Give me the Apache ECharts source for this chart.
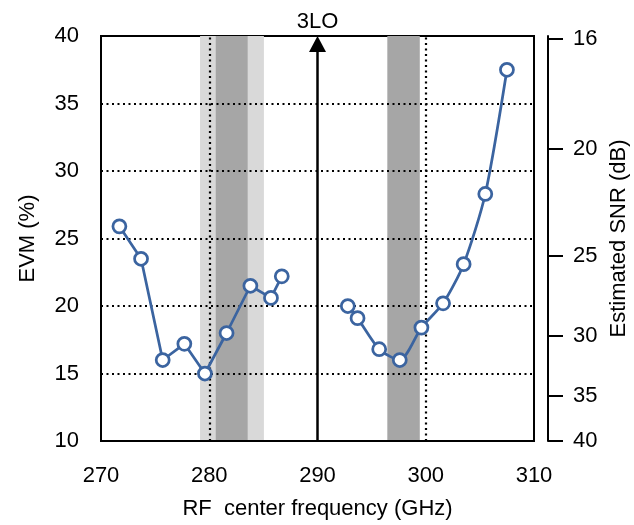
<!DOCTYPE html>
<html>
<head>
<meta charset="utf-8">
<script src="https://cdn.jsdelivr.net/npm/echarts@6/dist/echarts.min.js"></script>
<style>
  html, body { margin: 0; padding: 0; background: #fff; }
  #chart { width: 634px; height: 525px; }
</style>
</head>
<body>
<div id="chart"></div>
<script>
// lower band (below 3LO)
const lowFreq = [271.7, 273.7, 275.7, 277.7, 279.6, 281.6, 283.8, 285.7, 286.7];
const lowEvm = [25.9, 23.5, 16.0, 17.2, 15.0, 18.0, 21.5, 20.6, 22.2];
// upper band (above 3LO)
const highFreq = [292.8, 293.7, 295.7, 297.6, 299.6, 301.6, 303.5, 305.5, 307.5];
const highEvm = [20.0, 19.1, 16.8, 16.0, 18.4, 20.2, 23.1, 28.3, 37.5];

// shaded regions [from, to] in GHz
const lightBands = [[279.15, 285.05]];
const darkBands = [[280.6, 283.55], [296.45, 299.45]];
const dottedFreqs = [280, 300];
const gridEvm = [15, 20, 25, 30, 35];
// 3LO arrow: frequency and EVM span (head sits just inside the top edge)
const loFreq = 290;
const loSpan = [10, 39.4];

// right axis tick labels (estimated SNR, dB)
const snrTicks = [16, 20, 25, 30, 35, 40];
// SNR -> EVM position on the shared scale
const snrToEvm = s => 100 * Math.pow(10, -s / 40);
const snrPos = snrTicks.map(snrToEvm);

const blue = '#3B64A0';
const font = 'Liberation Sans, Arial, sans-serif';
const fs = 22;

const chart = echarts.init(document.getElementById('chart'));

const pairs = (xs, ys) => xs.map((x, i) => [x, ys[i]]);

const option = {
  animation: false,
  textStyle: { fontFamily: font, color: '#000' },
  grid: {
    left: 101, right: 100, top: 36, bottom: 84,
    outerBoundsMode: 'none',
    show: true, borderColor: '#000', borderWidth: 2, backgroundColor: 'transparent'
  },
  xAxis: {
    type: 'value', min: 270, max: 310, interval: 10,
    axisLine: { lineStyle: { color: '#000', width: 2 } },
    axisTick: { show: false },
    splitLine: { show: false },
    axisLabel: { fontSize: fs, color: '#000', margin: 24, fontFamily: font },
    name: 'RF  center frequency (GHz)', nameLocation: 'middle', nameGap: 57,
    nameTextStyle: { fontSize: fs, color: '#000', fontFamily: font }
  },
  yAxis: [{
    type: 'value', min: 10, max: 40, interval: 5,
    axisLine: { show: true, lineStyle: { color: '#000', width: 2 } },
    axisTick: { show: false },
    splitLine: { show: false },
    axisLabel: { fontSize: fs, color: '#000', margin: 22, fontFamily: font },
    name: 'EVM (%)', nameLocation: 'middle', nameGap: 62,
    nameTextStyle: { fontSize: fs, color: '#000', fontFamily: font }
  }, {
    type: 'value', min: 10, max: 40, position: 'right', offset: 14,
    axisLine: { show: true, lineStyle: { color: '#000', width: 2 } },
    axisTick: { show: true, length: 15, customValues: snrPos, lineStyle: { color: '#000', width: 2 } },
    splitLine: { show: false },
    axisLabel: {
      fontSize: fs, color: '#000', margin: 25, fontFamily: font,
      customValues: snrPos,
      formatter: v => String(Math.round(-40 * Math.log10(v / 100)))
    },
    name: 'Estimated SNR (dB)', nameLocation: 'middle', nameGap: 53, nameRotate: 90,
    nameTextStyle: { fontSize: fs, color: '#000', fontFamily: font }
  }],
  series: [{
    name: 'marks',
    type: 'line',
    data: [],
    silent: true,
    markArea: {
      silent: true,
      z: 0,
      data: [
        ...lightBands.map(b => [{ xAxis: b[0], itemStyle: { color: '#D9D9D9' } }, { xAxis: b[1] }]),
        ...darkBands.map(b => [{ xAxis: b[0], itemStyle: { color: '#A6A6A6' } }, { xAxis: b[1] }])
      ]
    },
    markLine: {
      silent: true,
      z: 1,
      symbol: 'none',
      label: { show: false },
      lineStyle: { color: '#000', width: 2.2, type: [2, 3.5] },
      data: [
        ...gridEvm.map(v => ({ yAxis: v })),
        ...dottedFreqs.map(v => ({ xAxis: v }))
      ]
    }
  }, {
    name: 'lo',
    type: 'line',
    data: [],
    silent: true,
    markLine: {
      silent: true,
      z: 3,
      symbol: ['none', 'triangle'],
      symbolSize: [17, 16],
      lineStyle: { color: '#000', width: 2.5, type: 'solid' },
      label: {
        show: true, position: 'end', formatter: '3LO', distance: 11,
        fontSize: fs, color: '#000', fontFamily: font
      },
      data: [[{ coord: [loFreq, loSpan[0]] }, { coord: [loFreq, loSpan[1]] }]]
    }
  }, {
    name: 'low',
    type: 'line',
    z: 4,
    data: pairs(lowFreq, lowEvm),
    symbol: 'circle', symbolSize: 13,
    lineStyle: { color: blue, width: 2.75 },
    itemStyle: { color: '#fff', borderColor: blue, borderWidth: 2.75 }
  }, {
    name: 'high',
    type: 'line',
    z: 4,
    smooth: 0.25,
    data: pairs(highFreq, highEvm),
    symbol: 'circle', symbolSize: 13,
    lineStyle: { color: blue, width: 2.75 },
    itemStyle: { color: '#fff', borderColor: blue, borderWidth: 2.75 }
  }]
};

chart.setOption(option);
</script>
</body>
</html>
